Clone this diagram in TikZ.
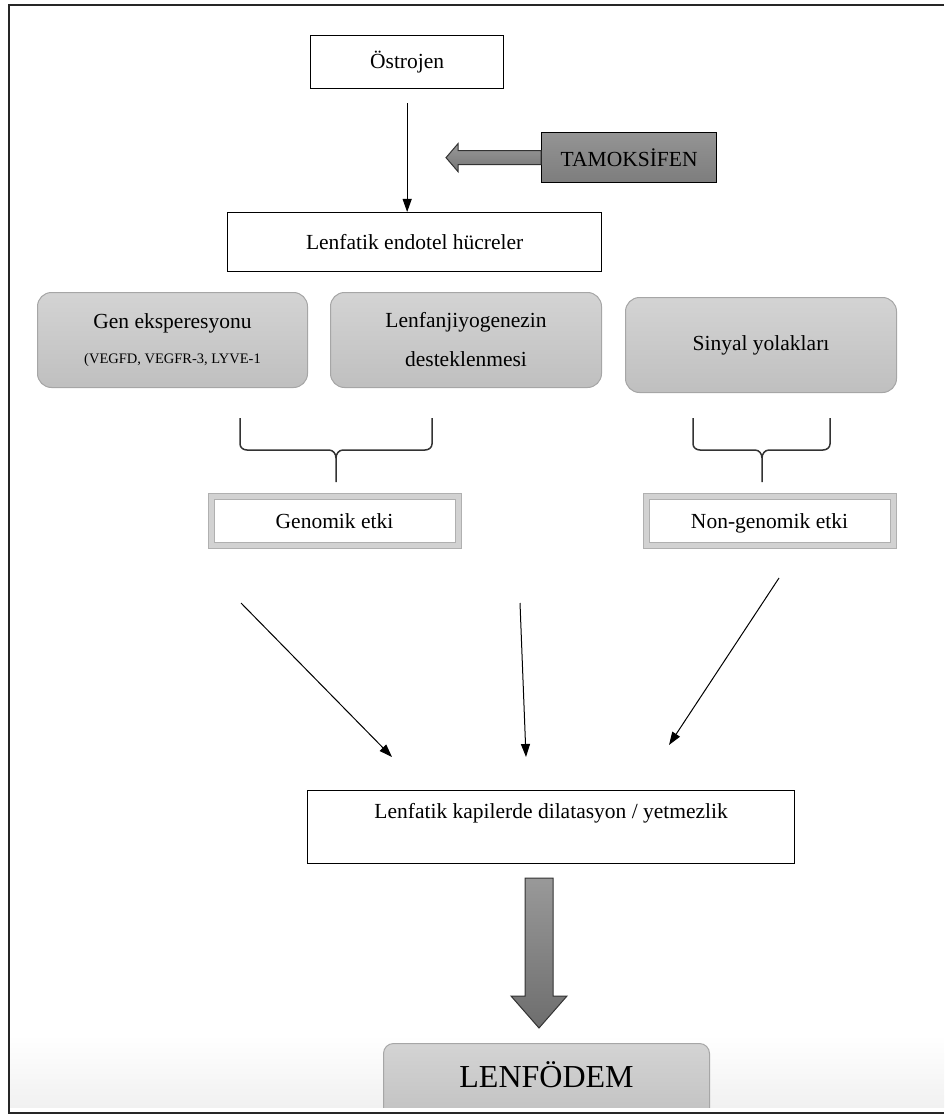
\documentclass[tikz,border=0pt]{standalone}
\usepackage{fontspec}
\setmainfont{Liberation Serif}
\usetikzlibrary{arrows.meta}

\begin{document}
\begin{tikzpicture}[x=1pt,y=-1pt,
  kutu/.style={draw, line width=1.3pt, fill=white, inner sep=0pt, anchor=north west,
    font=\fontsize{21.5}{25}\selectfont},
  grikutu/.style={draw=gray!70, line width=1pt, rounded corners=14pt, top color=gray!34,
    bottom color=gray!50, inner sep=0pt, anchor=north west, align=center,
    font=\fontsize{21.5}{25}\selectfont},
  cerceve/.style={draw=gray!62, double=gray!35, double distance=5pt, line width=1pt,
    fill=white, inner sep=0pt, anchor=north west, minimum width=247pt,
    text height=32pt, text depth=17pt, font=\fontsize{21.5}{25}\selectfont},
  ok/.style={-{Triangle[length=13pt,width=9pt]}, line width=1pt},
  parantez/.style={line width=1.5pt, black!80},
  blokok/.style={draw=black!80, line width=1pt}]
\useasboundingbox (0,0) rectangle (944,1115);
% alt golge
\shade[top color=white, bottom color=gray!11] (10,1035) rectangle (944,1107);
% kutular
\node[kutu, minimum width=193pt, minimum height=53pt] (ostrojen) at (310,35) {Östrojen};
\node[kutu, minimum width=175pt, minimum height=50pt, top color=gray!84, bottom color=gray!98!black]
  (tamoksifen) at (541,132) {TAMOKSİFEN};
\node[kutu, minimum width=374pt, minimum height=59pt] (endotel) at (227,212) {Lenfatik endotel hücreler};
\node[grikutu, minimum width=270pt, minimum height=95pt] (gen) at (37,292)
  {Gen eksperesyonu\\[10pt]{\fontsize{14.5}{17}\selectfont (VEGFD, VEGFR-3, LYVE-1}};
\node[grikutu, minimum width=271pt, minimum height=95pt] (lenfanj) at (330,292)
  {Lenfanjiyogenezin\\[14pt]desteklenmesi};
\node[grikutu, minimum width=271pt, minimum height=95pt] (sinyal) at (625,297) {Sinyal yolakları};
\node[cerceve] (genomik) at (210.5,495.5) {Genomik etki};
\node[cerceve] (nongenomik) at (645.5,495.5) {Non-genomik etki};
\node[kutu, minimum width=487pt, text height=28pt, text depth=45pt] (kapil) at (307,790)
  {Lenfatik kapilerde dilatasyon / yetmezlik};
\begin{scope}
\clip (0,0) rectangle (944,1107);
\node[grikutu, rounded corners=10pt, minimum width=326pt, text height=44pt, text depth=40pt,
  font=\fontsize{32}{38}\selectfont] (lenfodem) at (383,1043) {LENFÖDEM};
\end{scope}
% oklar
\draw[ok] ([yshift=-14pt]ostrojen.south) -- (ostrojen.south |- endotel.north);
\draw[blokok, top color=gray!80, bottom color=gray!92!black]
  (tamoksifen.west) ++(0,-7) -- ++(-83,0) -- ++(0,-7) -- ++(-12,14) -- ++(12,14)
  -- ++(0,-7) -- ++(83,0) -- cycle;
% parantezler
\draw[parantez] (240,418) -- (240,444) to[out=-90,in=180] (247,450) -- (329,450)
  to[out=0,in=90] (336,458) -- (336,482);
\draw[parantez] (432,418) -- (432,444) to[out=-90,in=0] (425,450) -- (343,450)
  to[out=180,in=90] (336,458);
\draw[parantez] (693,418) -- (693,444) to[out=-90,in=180] (700,450) -- (755,450)
  to[out=0,in=90] (762,458) -- (762,482);
\draw[parantez] (830,418) -- (830,444) to[out=-90,in=0] (823,450) -- (769,450)
  to[out=180,in=90] (762,458);
% etki oklari
\coordinate (sol1) at (241,603);
\coordinate (sol2) at (392,757);
\coordinate (orta1) at (520,603);
\coordinate (orta2) at (526,757);
\coordinate (sag1) at (779,578);
\coordinate (sag2) at (669,745);
\draw[ok] (sol1) -- (sol2);
\draw[ok] (orta1) -- (orta2);
\draw[ok] (sag1) -- (sag2);
% buyuk ok
\draw[blokok, top color=gray!80, bottom color=gray!86!black]
  (525,878) -- (553,878) -- (553,996) -- (567,996) -- (539,1028) -- (511,996)
  -- (525,996) -- cycle;
% cerceve
\draw[line width=2pt, black!85] (944,5) -- (9,5) -- (9,1113) -- (944,1113);
\end{tikzpicture}
\end{document}
